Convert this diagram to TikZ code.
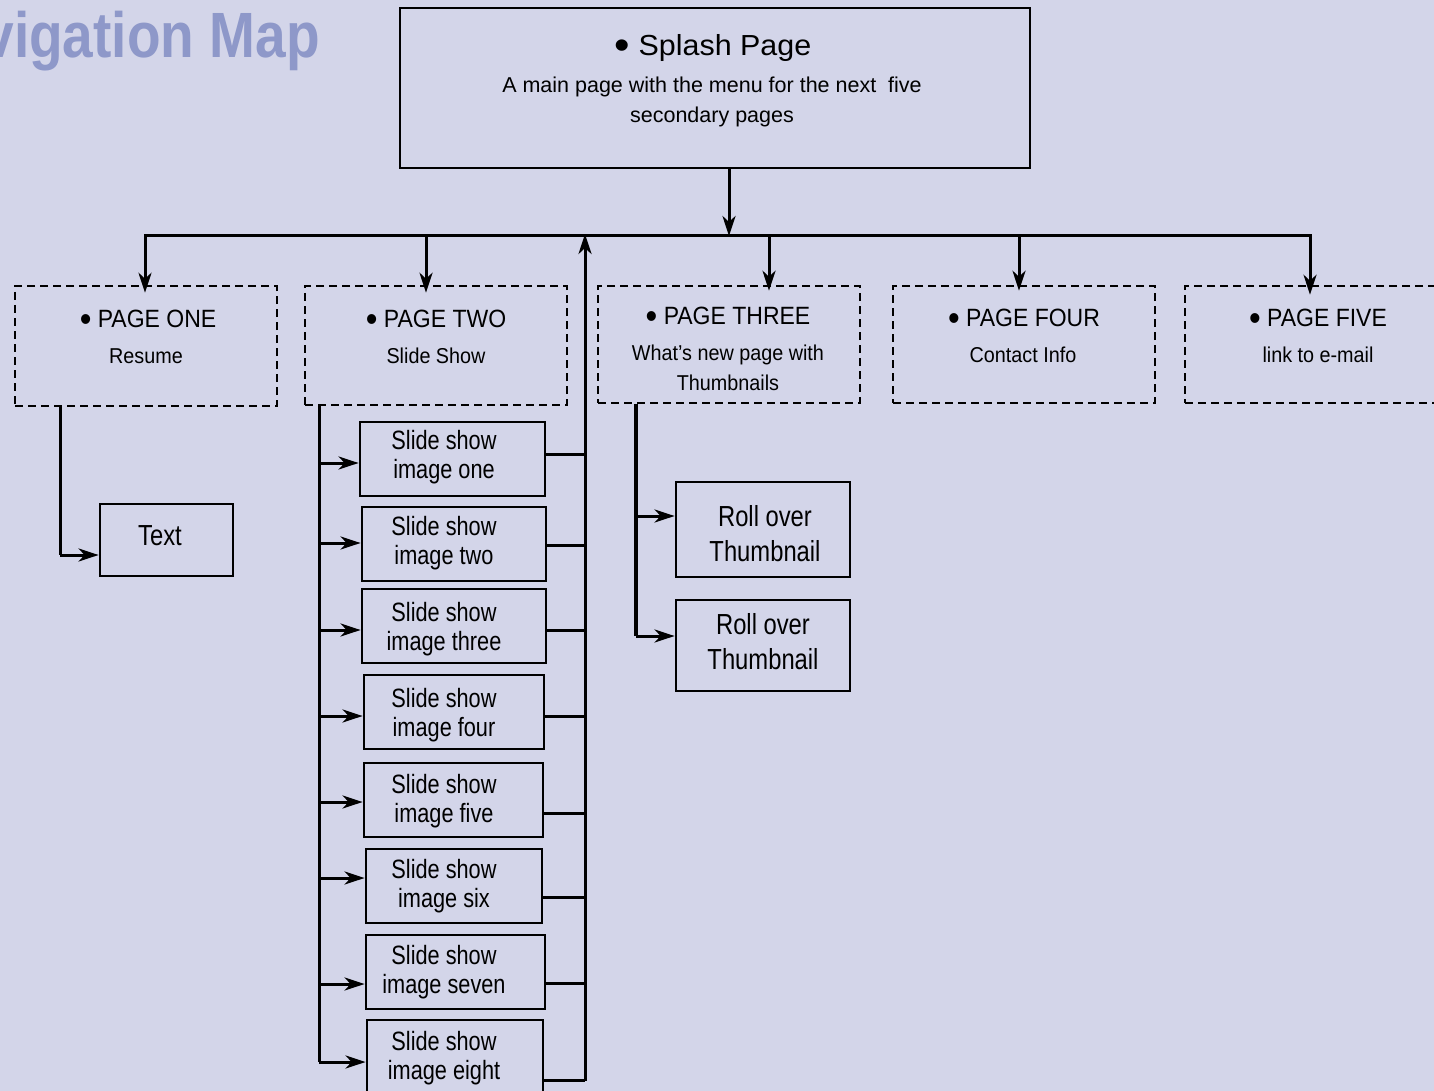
\documentclass[tikz,border=0pt]{standalone}
\usepackage{fontspec}
\usepackage{graphicx}
\setmainfont{Liberation Sans}
\newfontfamily\fnSplash[FakeStretch=1.05]{Liberation Sans}
\newfontfamily\fnSub[FakeStretch=1.0]{Liberation Sans}
\newfontfamily\fnPage[FakeStretch=0.92]{Liberation Sans}
\newfontfamily\fnBox[FakeStretch=0.82]{Liberation Sans}
\newfontfamily\fnTitle[FakeStretch=0.86]{Liberation Sans}
\newcommand\bigbul{\raisebox{-0.14em}{\scalebox{1.45}{\textbullet}}}
\usetikzlibrary{arrows.meta,calc}
\definecolor{bgc}{RGB}{211,213,233}
\definecolor{ttlc}{RGB}{142,152,201}
\begin{document}
\begin{tikzpicture}[x=1pt,y=-1pt,
  solidbox/.style={draw,line width=2.8pt,inner sep=0pt},
  pagebox/.style={draw,line width=2.5pt,dash pattern=on 8pt off 5pt,inner sep=0pt,minimum width=262pt},
  conn/.style={line width=3pt},
  arr/.style={line width=3pt,-{Stealth[length=20pt,width=13pt,inset=6pt]}},
  pt/.style={font=\fnPage\fontsize{25}{29}\selectfont,inner sep=0pt,align=center},
  ps/.style={font=\fnPage\fontsize{21.5}{30}\selectfont,inner sep=0pt,align=center},
  st/.style={font=\fnBox\fontsize{26.5}{29}\selectfont,inner sep=0pt,align=center},
  rt/.style={font=\fnBox\fontsize{29}{35}\selectfont,inner sep=0pt,align=center}]
\useasboundingbox (0,0) rectangle (1434,1091);
\fill[bgc] (0,0) rectangle (1434,1091);

% title
\node[anchor=base east,inner sep=0pt,text=ttlc,font=\fnTitle\bfseries\fontsize{64}{64}\selectfont] (title) at (320,58) {Navigation Map};

% splash
\node[solidbox,minimum width=630pt,minimum height=160pt] (splash) at (715,88) {};
\node[inner sep=0pt,font=\fnSplash\fontsize{29}{30}\selectfont] (splasht) at (713,48) {\bigbul\ Splash Page};
\node[inner sep=0pt,align=center,font=\fnSub\fontsize{21.5}{30}\selectfont] (splashs) at (712,102) {A main page with the menu for the next\ \ five\\secondary pages};

% page boxes
\node[pagebox,minimum height=120pt] (p1) at (146,346) {};
\node[pagebox,minimum height=119pt] (p2) at (436,345.5) {};
\node[pagebox,minimum height=117pt] (p3) at (729,344.5) {};
\node[pagebox,minimum height=117pt] (p4) at (1024,344.5) {};
\node[pagebox,minimum height=117pt] (p5) at (1316,344.5) {};

\node[pt] (p1t) at (148,321) {\bigbul\ PAGE ONE};
\node[ps] (p1s) at (146,356) {Resume};
\node[pt] (p2t) at (436,321) {\bigbul\ PAGE TWO};
\node[ps] (p2s) at (436,356) {Slide Show};
\node[pt] (p3t) at (728,318) {\bigbul\ PAGE THREE};
\node[ps] (p3s) at (728,368) {What’s new page with\\Thumbnails};
\node[pt] (p4t) at (1024,320) {\bigbul\ PAGE FOUR};
\node[ps] (p4s) at (1023,355) {Contact Info};
\node[pt] (p5t) at (1318,320) {\bigbul\ PAGE FIVE};
\node[ps] (p5s) at (1318,355) {link to e-mail};

% text box
\node[solidbox,minimum width=133pt,minimum height=72pt] (tx) at (166.5,540) {};
\node[inner sep=0pt,font=\fnBox\fontsize{29}{30}\selectfont] (txt) at (160,536) {Text};

% slide boxes
\node[solidbox,minimum width=185pt,minimum height=74pt] (s1) at (452.5,459) {};
\node[solidbox,minimum width=184pt,minimum height=74pt] (s2) at (454,544) {};
\node[solidbox,minimum width=184pt,minimum height=74pt] (s3) at (454,626) {};
\node[solidbox,minimum width=180pt,minimum height=74pt] (s4) at (454,712) {};
\node[solidbox,minimum width=179pt,minimum height=74pt] (s5) at (453.5,800) {};
\node[solidbox,minimum width=176pt,minimum height=74pt] (s6) at (454,886) {};
\node[solidbox,minimum width=179pt,minimum height=74pt] (s7) at (455.5,972) {};
\node[solidbox,minimum width=176pt,minimum height=74pt] (s8) at (455,1057) {};

\node[st] (s1t) at (444,457.5) {Slide show\\image one};
\node[st] (s2t) at (444,543) {Slide show\\image two};
\node[st] (s3t) at (444,629) {Slide show\\image three};
\node[st] (s4t) at (444,715.5) {Slide show\\image four};
\node[st] (s5t) at (444,801) {Slide show\\image five};
\node[st] (s6t) at (444,886.5) {Slide show\\image six};
\node[st] (s7t) at (444,972.5) {Slide show\\image seven};
\node[st] (s8t) at (444,1058.5) {Slide show\\image eight};

% roll over
\node[solidbox,minimum width=174pt,minimum height=95pt] (r1) at (763,529.5) {};
\node[solidbox,minimum width=174pt,minimum height=91pt] (r2) at (763,645.5) {};
\node[rt] (r1t) at (765,533.5) {Roll over\\Thumbnail};
\node[rt] (r2t) at (763,641.5) {Roll over\\Thumbnail};

% bar and coordinates
\coordinate (b0) at (729,236);
\coordinate (a1) at (145,236);
\coordinate (a2) at (426,236);
\coordinate (a3) at (769,236);
\coordinate (a4) at (1019,236);
\coordinate (a5) at (1310,236);
\coordinate (ret) at (585,1081);

\draw[arr] (splash.south -| b0) -- (b0);
\draw[conn,line cap=rect] (a1) -- (a5);
\draw[arr] (a1) -- ([yshift=-8pt]a1 |- p1.north);
\draw[arr] (a2) -- ([yshift=-8pt]a2 |- p2.north);
\draw[arr] (a3) -- ([yshift=-6pt]a3 |- p3.north);
\draw[arr] (a4) -- ([yshift=-6pt]a4 |- p4.north);
\draw[arr] (a5) -- ([yshift=-10pt]a5 |- p5.north);
\draw[arr] (ret) -- ([yshift=2pt]ret |- b0);

% page one branch
\coordinate (c1) at (60,555);
\draw[conn] (p1.south -| c1) -- (c1);
\draw[arr] (c1) -- (c1 -| tx.west);

% page two branch
\coordinate (v2) at (319,1062);
\draw[line width=3pt] (p2.south -| v2) -- (v2);
\foreach \i/\y in {1/463,2/543,3/630,4/716,5/802,6/878,7/984,8/1062}{
  \coordinate (l\i) at (319,\y);
  \draw[arr] (l\i) -- (l\i -| s\i.west);
}
\foreach \i/\y in {1/454,2/545,3/630,4/716,5/813,6/897,7/983,8/1080}{
  \coordinate (rr\i) at (585,\y);
  \draw[conn] (rr\i -| s\i.east) -- (rr\i);
}

% page three branch
\coordinate (v3) at (636,636);
\coordinate (q1) at (636,516);
\draw[line width=4pt] (p3.south -| v3) -- (v3);
\draw[arr] (q1) -- (q1 -| r1.west);
\draw[arr] (v3) -- (v3 -| r2.west);
\end{tikzpicture}
\end{document}
